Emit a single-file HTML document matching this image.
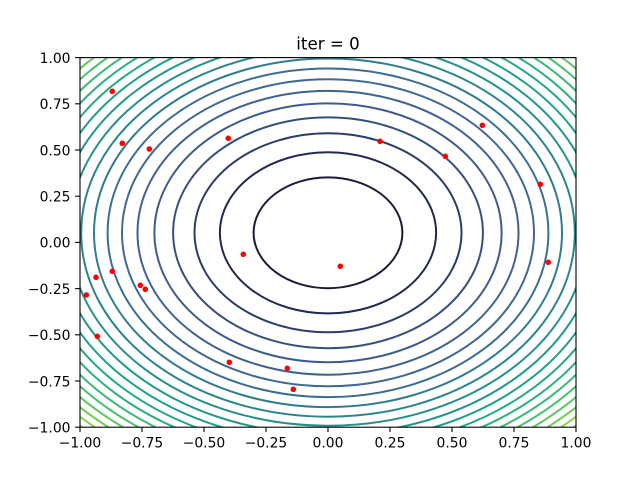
<!DOCTYPE html>
<html><head><meta charset="utf-8"><style>
html,body{margin:0;padding:0;background:#fff;}
svg{display:block;}
text{font-family:"DejaVu Sans","Liberation Sans",sans-serif;fill:#000;}
</style></head><body>
<svg width="640" height="480" viewBox="0 0 640 480" xmlns="http://www.w3.org/2000/svg">
<rect x="0" y="0" width="640" height="480" fill="#fff"/>
<defs><clipPath id="ax"><rect x="80" y="57.6" width="496" height="369.6"/></clipPath></defs>
<g clip-path="url(#ax)" fill="none" stroke-width="2">
<ellipse cx="328" cy="232.8" rx="74.4" ry="55.4" stroke="#1e1a3c"/>
<ellipse cx="328" cy="232.8" rx="108.1" ry="80.6" stroke="#222a52"/>
<ellipse cx="328" cy="232.8" rx="133.5" ry="99.5" stroke="#2c3d68"/>
<ellipse cx="328" cy="232.8" rx="154.9" ry="115.4" stroke="#36507e"/>
<ellipse cx="328" cy="232.8" rx="173.6" ry="129.4" stroke="#3d5c8b"/>
<ellipse cx="328" cy="232.8" rx="190.5" ry="141.9" stroke="#3f6290"/>
<ellipse cx="328" cy="232.8" rx="206.0" ry="153.5" stroke="#3f6892"/>
<ellipse cx="328" cy="232.8" rx="220.4" ry="164.3" stroke="#3c6e94"/>
<ellipse cx="328" cy="232.8" rx="234.0" ry="174.3" stroke="#2f7d90"/>
<ellipse cx="328" cy="232.8" rx="246.8" ry="183.9" stroke="#2a868d"/>
<ellipse cx="328" cy="232.8" rx="258.9" ry="192.9" stroke="#26908b"/>
<ellipse cx="328" cy="232.8" rx="270.5" ry="201.6" stroke="#22988a"/>
<ellipse cx="328" cy="232.8" rx="281.7" ry="209.9" stroke="#209f88"/>
<ellipse cx="328" cy="232.8" rx="292.4" ry="217.9" stroke="#24a784"/>
<ellipse cx="328" cy="232.8" rx="302.7" ry="225.6" stroke="#2eb07e"/>
<ellipse cx="328" cy="232.8" rx="312.7" ry="233.0" stroke="#3bb877"/>
<ellipse cx="328" cy="232.8" rx="322.4" ry="240.2" stroke="#4bbf6f"/>
<ellipse cx="328" cy="232.8" rx="331.8" ry="247.2" stroke="#5dc665"/>
<ellipse cx="328" cy="232.8" rx="341.0" ry="254.1" stroke="#70cd5a"/>
<ellipse cx="328" cy="232.8" rx="349.9" ry="260.7" stroke="#84d44e"/>
<ellipse cx="328" cy="232.8" rx="358.5" ry="267.2" stroke="#98d843"/>
</g>
<g fill="#ff0000" clip-path="url(#ax)">
<circle cx="112.3" cy="91.3" r="2.8"/>
<circle cx="122.3" cy="143.3" r="2.8"/>
<circle cx="149.3" cy="149" r="2.8"/>
<circle cx="228.3" cy="138.3" r="2.8"/>
<circle cx="380" cy="141.3" r="2.8"/>
<circle cx="445.3" cy="156.3" r="2.8"/>
<circle cx="482.3" cy="125.3" r="2.8"/>
<circle cx="540.3" cy="184.3" r="2.8"/>
<circle cx="548.3" cy="262.3" r="2.8"/>
<circle cx="243.3" cy="254.3" r="2.8"/>
<circle cx="340.3" cy="266.3" r="2.8"/>
<circle cx="96" cy="277.3" r="2.8"/>
<circle cx="112.3" cy="271.3" r="2.8"/>
<circle cx="86.3" cy="295" r="2.8"/>
<circle cx="140.3" cy="285.3" r="2.8"/>
<circle cx="145.3" cy="289.3" r="2.8"/>
<circle cx="97.3" cy="336.3" r="2.8"/>
<circle cx="229.3" cy="362.3" r="2.8"/>
<circle cx="287.3" cy="368.3" r="2.8"/>
<circle cx="293.3" cy="389.3" r="2.8"/>
</g>
<rect x="80" y="57.6" width="496" height="369.6" fill="none" stroke="#000" stroke-width="1.1"/>
<g stroke="#000" stroke-width="1.1">
<line x1="80" y1="427.2" x2="80" y2="432.1"/>
<line x1="142" y1="427.2" x2="142" y2="432.1"/>
<line x1="204" y1="427.2" x2="204" y2="432.1"/>
<line x1="266" y1="427.2" x2="266" y2="432.1"/>
<line x1="328" y1="427.2" x2="328" y2="432.1"/>
<line x1="390" y1="427.2" x2="390" y2="432.1"/>
<line x1="452" y1="427.2" x2="452" y2="432.1"/>
<line x1="514" y1="427.2" x2="514" y2="432.1"/>
<line x1="576" y1="427.2" x2="576" y2="432.1"/>
<line x1="75.1" y1="57.6" x2="80" y2="57.6"/>
<line x1="75.1" y1="103.8" x2="80" y2="103.8"/>
<line x1="75.1" y1="150" x2="80" y2="150"/>
<line x1="75.1" y1="196.2" x2="80" y2="196.2"/>
<line x1="75.1" y1="242.4" x2="80" y2="242.4"/>
<line x1="75.1" y1="288.6" x2="80" y2="288.6"/>
<line x1="75.1" y1="334.8" x2="80" y2="334.8"/>
<line x1="75.1" y1="381" x2="80" y2="381"/>
<line x1="75.1" y1="427.2" x2="80" y2="427.2"/>
</g>
<g font-size="13.9" text-anchor="middle">
<text x="80" y="447.5">−1.00</text>
<text x="142" y="447.5">−0.75</text>
<text x="204" y="447.5">−0.50</text>
<text x="266" y="447.5">−0.25</text>
<text x="328" y="447.5">0.00</text>
<text x="390" y="447.5">0.25</text>
<text x="452" y="447.5">0.50</text>
<text x="514" y="447.5">0.75</text>
<text x="576" y="447.5">1.00</text>
</g>
<g font-size="13.9" text-anchor="end">
<text x="70.5" y="62.9">1.00</text>
<text x="70.5" y="109.1">0.75</text>
<text x="70.5" y="155.3">0.50</text>
<text x="70.5" y="201.5">0.25</text>
<text x="70.5" y="247.7">0.00</text>
<text x="70.5" y="293.9">−0.25</text>
<text x="70.5" y="340.1">−0.50</text>
<text x="70.5" y="386.3">−0.75</text>
<text x="70.5" y="432.5">−1.00</text>
</g>
<text x="328" y="49.3" font-size="16.67" text-anchor="middle">iter = 0</text>
</svg>
</body></html>
